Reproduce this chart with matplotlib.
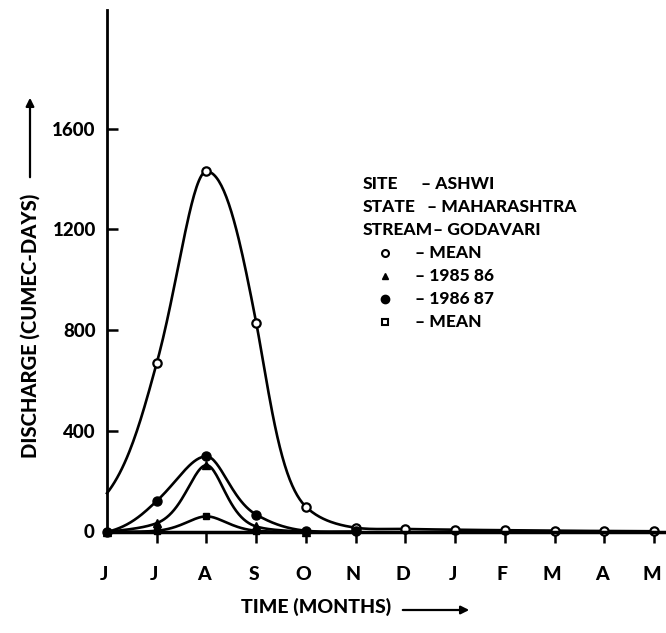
import numpy as np
import matplotlib
matplotlib.use("Agg")
import matplotlib.pyplot as plt
from matplotlib.lines import Line2D
from matplotlib.patches import FancyArrowPatch

# months June .. May
months = ["J", "J", "A", "S", "O", "N", "D", "J", "F", "M", "A", "M"]
month_pos = list(range(12))

# discharge (cumec-days)
mean_big = [154, 670, 1430, 830, 100, 17, 12, 9, 7, 5, 4, 3]
y1986_87 = [0, 123, 300, 69, 5, 2]
y1985_86 = [0, 35, 265, 22, 0]
mean_small = [0, 5, 62, 5, 0]

yticks = [0, 400, 800, 1200, 1600]

legend_rows = [("SITE", "– ASHWI"), ("STATE", "– MAHARASHTRA"), ("STREAM", "– GODAVARI")]
legend_marks = [("o", "– MEAN"), ("^", "– 1985 86"), ("●", "– 1986 87"), ("s", "– MEAN")]


def hermite(x, y, n=40):
    # Catmull-Rom tangents, flat at local peaks/troughs
    x = np.asarray(x, float)
    y = np.asarray(y, float)
    k = len(x)
    m = np.zeros(k)
    m[0] = (y[1] - y[0]) / (x[1] - x[0])
    m[-1] = (y[-1] - y[-2]) / (x[-1] - x[-2])
    for i in range(1, k - 1):
        d0 = y[i] - y[i - 1]
        d1 = y[i + 1] - y[i]
        if d0 * d1 > 0:
            m[i] = (y[i + 1] - y[i - 1]) / (x[i + 1] - x[i - 1])
    xs, ys = [], []
    for i in range(k - 1):
        h = x[i + 1] - x[i]
        t = np.linspace(0, 1, n, endpoint=False)
        h00 = 2 * t**3 - 3 * t**2 + 1
        h10 = t**3 - 2 * t**2 + t
        h01 = -2 * t**3 + 3 * t**2
        h11 = t**3 - t**2
        xs.append(x[i] + t * h)
        ys.append(h00 * y[i] + h10 * h * m[i] + h01 * y[i + 1] + h11 * h * m[i + 1])
    xs.append([x[-1]])
    ys.append([y[-1]])
    return np.concatenate(xs), np.concatenate(ys)


def smooth(x, y, off=10.0):
    sx, sy = hermite(x, np.log(np.asarray(y, float) + off))
    return sx, np.clip(np.exp(sy) - off, 0, None)


WT = "black"
plt.rcParams["font.family"] = ["Lato", "DejaVu Sans"]
plt.rcParams["font.weight"] = WT

W, H = 666, 633
fig = plt.figure(figsize=(W / 100, H / 100), dpi=100)
ax = fig.add_axes([107 / W, (H - 532) / H, (664 - 107) / W, (532 - 10) / H])

lw = 1.9
# big mean curve
sx, sy = smooth(month_pos, mean_big, off=40.0)
ax.plot(sx, sy, color="black", lw=lw, clip_on=False)
ax.plot(month_pos[1:], mean_big[1:], "o", ms=6, mfc="white", mec="black", mew=1.6, clip_on=False)

# 1986-87
n = len(y1986_87)
sx, sy = smooth(month_pos[:n], y1986_87, off=30.0)
ax.plot(sx, sy, color="black", lw=lw, clip_on=False)
ax.plot(month_pos[:n], y1986_87, "o", ms=6.5, color="black", clip_on=False)

# 1985-86
n = len(y1985_86)
sx, sy = smooth(month_pos[:n], y1985_86, off=30.0)
ax.plot(sx, sy, color="black", lw=lw, clip_on=False)
ax.plot(month_pos[:n], y1985_86, "^", ms=6, color="black", clip_on=False)

# small mean
n = len(mean_small)
sx, sy = smooth(month_pos[:n], mean_small, off=20.0)
ax.plot(sx, sy, color="black", lw=lw, clip_on=False)
ax.plot(month_pos[:n], mean_small, "s", ms=4.5, color="black", clip_on=False)

ax.set_xlim(0, 11.2)
ax.set_ylim(0, 2070)
ax.spines["top"].set_visible(False)
ax.spines["right"].set_visible(False)
ax.spines["left"].set_linewidth(2)
ax.spines["bottom"].set_linewidth(2.5)

ax.set_xticks(month_pos[1:])
ax.set_xticklabels([])
ax.tick_params(axis="x", direction="out", length=8, width=1.8)
for i, m in enumerate(months):
    ax.text(i - 0.05, -170, m, ha="center", va="center", fontsize=14, fontweight=WT)

ax.set_yticks(yticks[1:])
ax.set_yticklabels([str(v) for v in yticks[1:]], fontsize=13.5, fontweight=WT)
ax.tick_params(axis="y", direction="in", length=8, width=1.8, pad=8)
ax.text(-0.25, 0, "0", ha="right", va="center", fontsize=13.5, fontweight=WT)

# axis titles with arrows
fig.text(30 / W, 1 - 326 / H, "DISCHARGE (CUMEC-DAYS)", rotation=90,
         ha="center", va="center", fontsize=14.5, fontweight=WT)
fig.add_artist(FancyArrowPatch(
    (30 / W, 1 - 180 / H), (30 / W, 1 - 95 / H), transform=fig.transFigure,
    arrowstyle="-|>", mutation_scale=12, lw=1.6, color="black"))
fig.text(316 / W, 1 - 607 / H, "TIME (MONTHS)", ha="center", va="center",
         fontsize=14, fontweight=WT)
fig.add_artist(FancyArrowPatch(
    (400 / W, 1 - 610 / H), (472 / W, 1 - 610 / H), transform=fig.transFigure,
    arrowstyle="-|>", mutation_scale=12, lw=1.6, color="black"))

# legend block
y0 = 184
dash_x = [421, 427, 433]
for i, (a, b) in enumerate(legend_rows):
    yy = 1 - (y0 + 23 * i) / H
    fig.text(363 / W, yy, a, ha="left", va="center", fontsize=12.5, fontweight=WT)
    fig.text(dash_x[i] / W, yy, b, ha="left", va="center", fontsize=12.5, fontweight=WT)
for i, (mk, b) in enumerate(legend_marks):
    yy = 1 - (y0 + 23 * (i + 3)) / H
    if mk == "o":
        art = Line2D([385 / W], [yy], marker="o", ms=5, mfc="white", mec="black", mew=1.5,
                     transform=fig.transFigure)
    elif mk == "^":
        art = Line2D([385 / W], [yy], marker="^", ms=5, color="black", transform=fig.transFigure)
    elif mk == "●":
        art = Line2D([385 / W], [yy], marker="o", ms=6, color="black", transform=fig.transFigure)
    else:
        art = Line2D([385 / W], [yy], marker="s", ms=4.5, mfc="white", mec="black", mew=1.5,
                     transform=fig.transFigure)
    fig.add_artist(art)
    fig.text(415 / W, yy, b, ha="left", va="center", fontsize=12.5, fontweight=WT)

fig.savefig("out.png", dpi=100)
